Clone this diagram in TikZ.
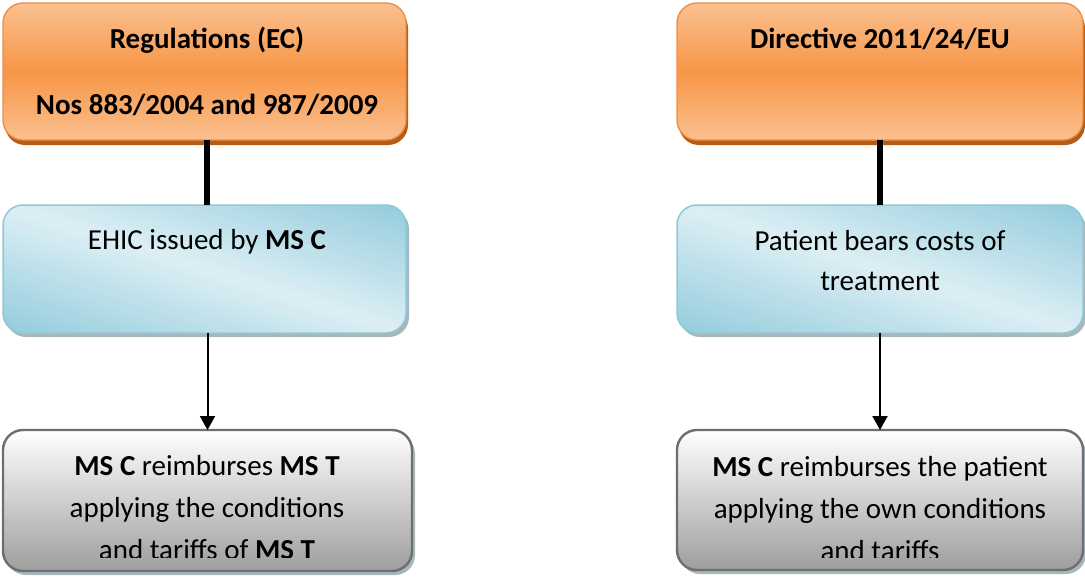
\documentclass[tikz,border=0pt]{standalone}
\usepackage{fontspec}
\setmainfont{Carlito}
\usetikzlibrary{arrows.meta,shadows}

\definecolor{orgMid}{HTML}{F79646}
\definecolor{orgLight}{HTML}{FAC090}
\definecolor{orgLine}{HTML}{EE8C45}
\definecolor{orgShadow}{HTML}{B85C14}
\definecolor{bluDark}{HTML}{8FCADB}
\definecolor{bluLight}{HTML}{DDEFF4}
\definecolor{bluLine}{HTML}{8FC9D9}
\definecolor{grayLine}{HTML}{6E6E6E}
\definecolor{grayBot}{HTML}{9E9E9E}
\definecolor{hatch}{HTML}{A7B7BC}

\tikzset{
  x=1pt, y=1pt,
  box/.style={rectangle, rounded corners=20pt, inner sep=0pt, outer sep=0pt, anchor=north west},
  legalbox/.style={box, draw=orgLine, line width=1.3pt,
    top color=orgLight, bottom color=orgLight, middle color=orgMid,
    drop shadow={shadow xshift=2pt, shadow yshift=-5pt, fill=orgShadow, opacity=1}},
  stepbox/.style={box, fill=bluDark,
    drop shadow={shadow xshift=3pt, shadow yshift=-4pt, fill=hatch, opacity=1}},
  stepline/.style={draw=bluLine, line width=1.5pt, rounded corners=20pt},
  resultbox/.style={box, draw=grayLine, line width=2.4pt,
    top color=white, bottom color=grayBot,
    drop shadow={shadow xshift=3pt, shadow yshift=-4pt, fill=hatch, opacity=1}},
  label/.style={anchor=base, align=center, inner sep=0pt, font=\fontsize{29}{42}\selectfont},
  bar/.style={line width=6pt, black},
  flow/.style={line width=2pt, black, -{Triangle[width=15pt,length=14pt]}}
}

% light streak from the upper left to the lower right corner of a blue box,
% built from thin bands, then the box outline on top
\newcommand\streakfill[1]{%
  \begin{scope}
    \clip[rounded corners=20pt] (#1.north west) rectangle (#1.south east);
    \begin{scope}[shift={(#1.center)}, rotate=-17.6]
      \foreach \i in {-26,...,25} {
        \pgfmathsetmacro\pct{max(0,100*(1-abs(\i*5+2.5)/128))}
        \fill[bluLight!\pct!bluDark] (-320,\i*5) rectangle (320,\i*5+5.6);
      }
    \end{scope}
  \end{scope}
  \draw[stepline] (#1.north west) rectangle (#1.south east);
}

\begin{document}
\begin{tikzpicture}
\useasboundingbox (0,0) rectangle (1085,-579);

% boxes of the left column (Regulations)
\node[legalbox,  minimum width=403pt, minimum height=137pt] (regA) at (3,-3) {};
\node[stepbox,   minimum width=403pt, minimum height=128pt] (regB) at (3,-205) {};
\streakfill{regB}
\node[resultbox, minimum width=409pt, minimum height=141pt] (regC) at (3,-430) {};

% boxes of the right column (Directive)
\node[legalbox,  minimum width=406pt, minimum height=137pt] (dirA) at (677,-3) {};
\node[stepbox,   minimum width=406pt, minimum height=128pt] (dirB) at (677,-205) {};
\streakfill{dirB}
\node[resultbox, minimum width=406pt, minimum height=140pt] (dirC) at (677,-430) {};

% connectors
\draw[bar] ([xshift=2.5pt]regA.south) -- ([xshift=2.5pt]regB.north);
\draw[flow] ([xshift=3pt]regB.south) -- (regC.north);
\draw[bar] (dirA.south) -- (dirB.north);
\draw[flow] (dirB.south) -- (dirC.north);

% texts (a multi-line node sits on the baseline of its last line)
\node[label, font=\fontsize{29}{66}\selectfont\bfseries] (regAt) at (207,-114)
  {Regulations (EC)\\Nos 883/2004 and 987/2009};
\node[label, font=\fontsize{29}{66}\selectfont\bfseries] (dirAt) at (880,-48)
  {Directive 2011/24/EU};
\node[label] (regBt) at (207,-249) {EHIC issued by \textbf{MS C}};
\node[label, font=\fontsize{29}{40}\selectfont] (dirBt) at (880,-290)
  {Patient bears costs of\\treatment};

\begin{scope}
  \clip (0,-430) rectangle (1085,-557);
  \node[label] (regCt) at (207,-559)
    {\textbf{MS C} reimburses \textbf{MS T}\\applying the conditions\\and tariffs of \textbf{MS T}};
  \node[label] (dirCt) at (880,-560)
    {\textbf{MS C} reimburses the patient\\applying the own conditions\\and tariffs};
\end{scope}
\end{tikzpicture}
\end{document}
